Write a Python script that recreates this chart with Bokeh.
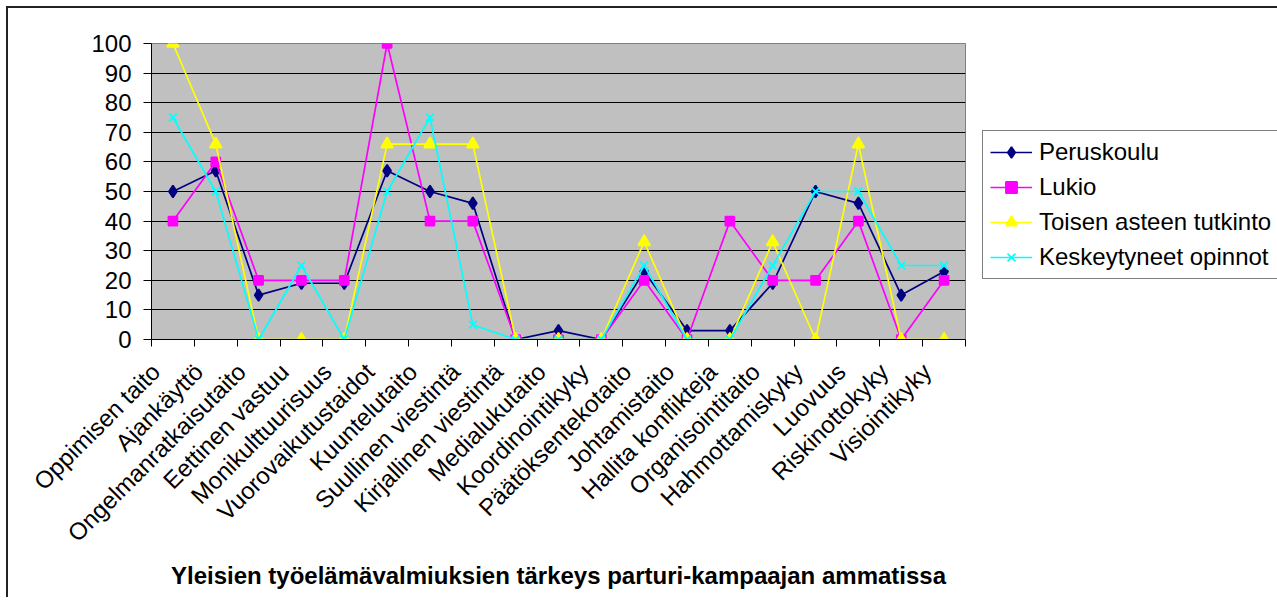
from bokeh.plotting import figure
from bokeh.models import (Range1d, FixedTicker, CustomJSTickFormatter, Legend, LegendItem)
from bokeh.embed import file_html
from bokeh.resources import INLINE
import math

categories = ["Oppimisen taito", "Ajankäyttö", "Ongelmanratkaisutaito", "Eettinen vastuu",
              "Monikulttuurisuus", "Vuorovaikutustaidot", "Kuuntelutaito", "Suullinen viestintä",
              "Kirjallinen viestintä", "Medialukutaito", "Koordinointikyky", "Päätöksentekotaito",
              "Johtamistaito", "Hallita konflikteja", "Organisointitaito", "Hahmottamiskyky",
              "Luovuus", "Riskinottokyky", "Visiointikyky"]

peruskoulu = [50, 57, 15, 19, 19, 57, 50, 46, 0, 3, 0, 23, 3, 3, 19, 50, 46, 15, 23]
lukio = [40, 60, 20, 20, 20, 100, 40, 40, 0, 0, 0, 20, 0, 40, 20, 20, 40, 0, 20]
toisen_asteen = [100, 66, 0, 0, 0, 66, 66, 66, 0, 0, 0, 33, 0, 0, 33, 0, 66, 0, 0]
keskeytyneet = [75, 50, 0, 25, 0, 50, 75, 5, 0, 0, 0, 25, 0, 0, 25, 50, 50, 25, 25]

series_names = ["Peruskoulu", "Lukio", "Toisen asteen tutkinto", "Keskeytyneet opinnot"]
y_ticks = [0, 10, 20, 30, 40, 50, 60, 70, 80, 90, 100]
title_text = "Yleisien työelämävalmiuksien tärkeys parturi-kampaajan ammatissa"

n = len(categories)
xs = [i + 0.5 for i in range(n)]
label_shift = 0.4  # style: rotated labels sit a bit left of the category centre

FONT = "Liberation Sans"

p = figure(frame_width=814, frame_height=296, output_backend="svg", toolbar_location=None,
           x_range=Range1d(0, n), y_range=Range1d(0, 100),
           min_border_left=143, min_border_top=35, min_border_right=300, min_border_bottom=258,
           background_fill_color="#C0C0C0", border_fill_color="white")
p.styles = {"border-left": "2px solid #222222", "border-top": "2px solid #222222",
            "margin-left": "6px", "margin-top": "6px"}

p.outline_line_color = "#808080"
p.outline_line_width = 1

xa = p.xaxis[0]
xa.ticker = FixedTicker(ticks=[x - label_shift for x in xs], minor_ticks=list(range(n + 1)))
xa.formatter = CustomJSTickFormatter(args=dict(labels=categories),
                                     code="const i = Math.round(tick - 0.5); return (i >= 0 && i < labels.length) ? labels[i] : '';")
xa.major_label_orientation = math.pi / 4
xa.major_tick_line_color = None
xa.minor_tick_in = 0
xa.minor_tick_out = 7
xa.minor_tick_line_color = "black"
xa.axis_line_color = "black"
xa.major_label_text_font = FONT
xa.major_label_text_font_size = "24px"
xa.major_label_text_color = "black"
xa.major_label_standoff = 21
xa.axis_label = title_text
xa.axis_label_text_font = FONT
xa.axis_label_text_font_size = "24px"
xa.axis_label_text_font_style = "bold"
xa.axis_label_text_color = "black"
xa.axis_label_standoff = 3

ya = p.yaxis[0]
ya.ticker = FixedTicker(ticks=y_ticks)
ya.major_tick_in = 0
ya.major_tick_out = 8
ya.minor_tick_line_color = None
ya.axis_line_color = "black"
ya.major_tick_line_color = "black"
ya.major_label_text_font = FONT
ya.major_label_text_font_size = "24px"
ya.major_label_text_color = "black"
ya.major_label_standoff = 12

p.xgrid.visible = False
p.ygrid.ticker = FixedTicker(ticks=y_ticks)
p.ygrid.grid_line_color = "black"
p.ygrid.grid_line_width = 1

styles = [
    dict(color="#000080", marker="diamond", size=12),
    dict(color="#FF00FF", marker="square", size=9),
    dict(color="#FFFF00", marker="triangle", size=12),
    dict(color="#00FFFF", marker="x", size=11),
]
data = [peruskoulu, lukio, toisen_asteen, keskeytyneet]

items = []
for name, vals, st in zip(series_names, data, styles):
    l = p.line(xs, vals, line_color=st["color"], line_width=1.7)
    s = p.scatter(xs, vals, marker=st["marker"], size=st["size"],
                  fill_color=st["color"], line_color=st["color"], line_width=1.7)
    items.append(LegendItem(label=name, renderers=[l, s]))

legend = Legend(items=items, location=(17, 60))
legend.border_line_color = "black"
legend.border_line_width = 1
legend.background_fill_color = "white"
legend.label_text_font = FONT
legend.label_text_font_size = "24px"
legend.label_text_color = "black"
legend.glyph_width = 42
legend.glyph_height = 28
legend.label_height = 28
legend.spacing = 7
legend.padding = 7
legend.label_standoff = 7
legend.margin = 0
p.add_layout(legend, "right")

open("out.html", "w").write(file_html(p, INLINE))
